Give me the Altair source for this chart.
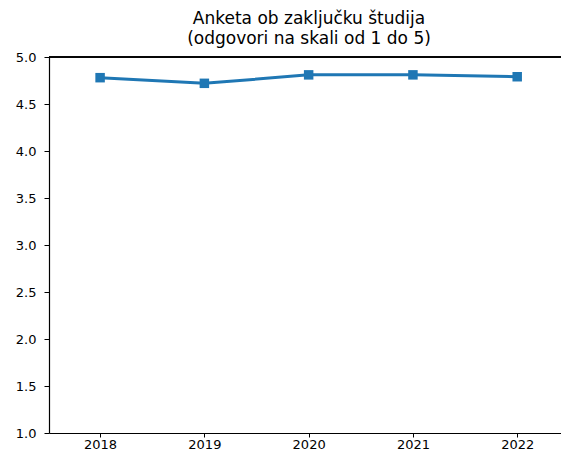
import altair as alt
import pandas as pd

years = [2018, 2019, 2020, 2021, 2022]
values = [4.78, 4.72, 4.81, 4.81, 4.79]
x_ticks = [2018, 2019, 2020, 2021, 2022]
y_ticks = [1.0, 1.5, 2.0, 2.5, 3.0, 3.5, 4.0, 4.5, 5.0]
title_lines = ["Anketa ob zaključku študija", "(odgovori na skali od 1 do 5)"]

df = pd.DataFrame({"leto": years, "vrednost": values})

W, H = 512, 376
FONT = "DejaVu Sans"

x_enc = alt.X(
    "leto:Q",
    scale=alt.Scale(domain=[2017.51, 2022.42], nice=False, zero=False),
    axis=alt.Axis(values=x_ticks, format="d", title=None, grid=False,
                  domainColor="black", tickColor="black", tickSize=4,
                  labelColor="black", labelFontSize=13, labelFont=FONT,
                  labelPadding=1, domainWidth=1.2),
)
y_enc = alt.Y(
    "vrednost:Q",
    scale=alt.Scale(domain=[1, 5], nice=False, zero=False),
    axis=alt.Axis(values=y_ticks, format=".1f", title=None, grid=False,
                  domainColor="black", tickColor="black", tickSize=5,
                  labelColor="black", labelFontSize=13, labelFont=FONT,
                  labelPadding=8, domainWidth=1.2),
)

line = alt.Chart(df).mark_line(color="#1f77b4", strokeWidth=3).encode(x=x_enc, y=y_enc)
pts = alt.Chart(df).mark_square(color="#1f77b4", size=90, opacity=1, filled=True).encode(
    x="leto:Q", y="vrednost:Q"
)
top_rule = alt.Chart(df).mark_rule(color="black", strokeWidth=1.2).encode(
    x=alt.value(0), x2=alt.value(W), y=alt.value(0)
)

chart = (
    alt.layer(top_rule, line, pts)
    .properties(
        width=W,
        height=H,
        title=alt.TitleParams(
            text=title_lines, fontSize=17, font=FONT, fontWeight="normal",
            color="black", anchor="middle", lineHeight=20, offset=3, dx=4,
        ),
        autosize=alt.AutoSizeParams(type="none"),
        padding={"left": 41, "top": 49, "right": 0, "bottom": 17},
    )
    .configure_view(stroke=None)
)

chart.save("out.html", embed_options={"renderer": "svg", "actions": False})
